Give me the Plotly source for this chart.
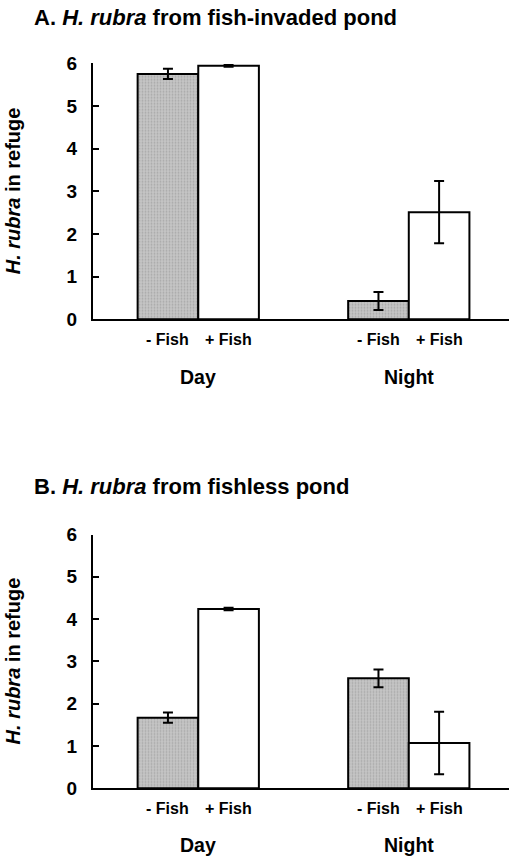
import plotly.graph_objects as go

# ---- data ----
periods = ["Day", "Night"]
treatments = ["- Fish", "+ Fish"]
a_no_fish = [5.75, 0.43]
a_no_fish_err = [0.12, 0.21]
a_fish = [5.94, 2.51]
a_fish_err = [0.02, 0.73]
b_no_fish = [1.67, 2.60]
b_no_fish_err = [0.12, 0.21]
b_fish = [4.24, 1.07]
b_fish_err = [0.03, 0.74]
y_ticks = [0, 1, 2, 3, 4, 5, 6]
titles = ["A. <i>H. rubra</i> from fish-invaded pond", "B. <i>H. rubra</i> from fishless pond"]
y_title = "<i>H. rubra</i> in refuge"

W, H = 509, 858
FONT = "Liberation Sans, Arial, sans-serif"
L = 93
BARGAP = 0.424
x_idx = list(range(len(periods)))


def py(px):
    """screen pixel row -> paper y"""
    return 1 - px / H


def pxx(px):
    """screen pixel column -> paper x"""
    return (px - L) / (W - L)


fig = go.Figure()
panels = [
    (a_no_fish, a_no_fish_err, a_fish, a_fish_err, "x", "y"),
    (b_no_fish, b_no_fish_err, b_fish, b_fish_err, "x2", "y2"),
]
for nf, nfe, f, fe, xa, ya in panels:
    fig.add_trace(go.Bar(
        x=x_idx, y=nf, xaxis=xa, yaxis=ya, name=treatments[0], offsetgroup="0",
        marker=dict(color="#bdbdbd", line=dict(color="black", width=2),
                    pattern=dict(shape=".", fgcolor="#8a8a8a", bgcolor="#c6c6c6", size=3, solidity=0.35)),
        error_y=dict(type="data", array=nfe, color="black", thickness=2, width=5),
        showlegend=False, hoverinfo="skip"))
    fig.add_trace(go.Bar(
        x=x_idx, y=f, xaxis=xa, yaxis=ya, name=treatments[1], offsetgroup="1",
        marker=dict(color="white", line=dict(color="black", width=2)),
        error_y=dict(type="data", array=fe, color="black", thickness=2, width=5),
        showlegend=False, hoverinfo="skip"))

xcommon = dict(range=[-0.5, 1.476], showline=True, linewidth=2, linecolor="black",
               showticklabels=False, ticks="", showgrid=False, zeroline=False, fixedrange=True)
ycommon = dict(range=[0, 6], tickvals=y_ticks, ticks="inside", ticklen=6, tickwidth=2,
               tickcolor="black", showline=True, linewidth=2, linecolor="black",
               showgrid=False, zeroline=False, ticklabelstandoff=10, fixedrange=True,
               tickfont=dict(family=FONT, size=19, color="black", weight="bold"))

domA = [py(319.3), py(63.3)]
domB = [py(788.3), py(534.5)]

fig.update_layout(
    width=W, height=H,
    margin=dict(l=L, r=0, t=0, b=0, autoexpand=False),
    paper_bgcolor="white", plot_bgcolor="white",
    barmode="group", bargap=BARGAP, bargroupgap=0,
    xaxis=dict(domain=[0, 1], anchor="y", **xcommon),
    yaxis=dict(domain=domA, anchor="x", **ycommon),
    xaxis2=dict(domain=[0, 1], anchor="y2", **xcommon),
    yaxis2=dict(domain=domB, anchor="x2", **ycommon),
    font=dict(family=FONT, color="black"),
)

half = (1 - BARGAP) / 4
ann = []
label_rows = [("x", 339.3, 377.0, 17.5, domA), ("x2", 808.3, 845.0, 486.3, domB)]
for (xa, fish_y, per_y, title_y, dom), title in zip(label_rows, titles):
    for i, p in zip(x_idx, periods):
        for j, t in enumerate(treatments):
            ann.append(dict(x=i + (2 * j - 1) * half, y=py(fish_y), xref=xa, yref="paper",
                            text="<b>%s</b>" % t, showarrow=False, xanchor="center", yanchor="middle",
                            font=dict(size=16, family=FONT, color="black")))
        ann.append(dict(x=i, y=py(per_y), xref=xa, yref="paper", text="<b>%s</b>" % p,
                        showarrow=False, xanchor="center", yanchor="middle",
                        font=dict(size=19.5, family=FONT, color="black")))
    ann.append(dict(x=pxx(32), y=py(title_y), xref="paper", yref="paper", text="<b>%s</b>" % title,
                    showarrow=False, xanchor="left", yanchor="middle",
                    font=dict(size=22, family=FONT, color="black")))
    ann.append(dict(x=pxx(13), y=(dom[0] + dom[1]) / 2, xref="paper", yref="paper",
                    text="<b>%s</b>" % y_title, textangle=-90, showarrow=False,
                    xanchor="center", yanchor="middle",
                    font=dict(size=20, family=FONT, color="black")))

fig.update_layout(annotations=ann)
# remove the browser's default 8px body margin so the figure fills the window exactly
fig.write_html("out.html", config={"displayModeBar": False, "staticPlot": True},
               post_script="document.body.style.margin='0';document.body.style.overflow='hidden';")
